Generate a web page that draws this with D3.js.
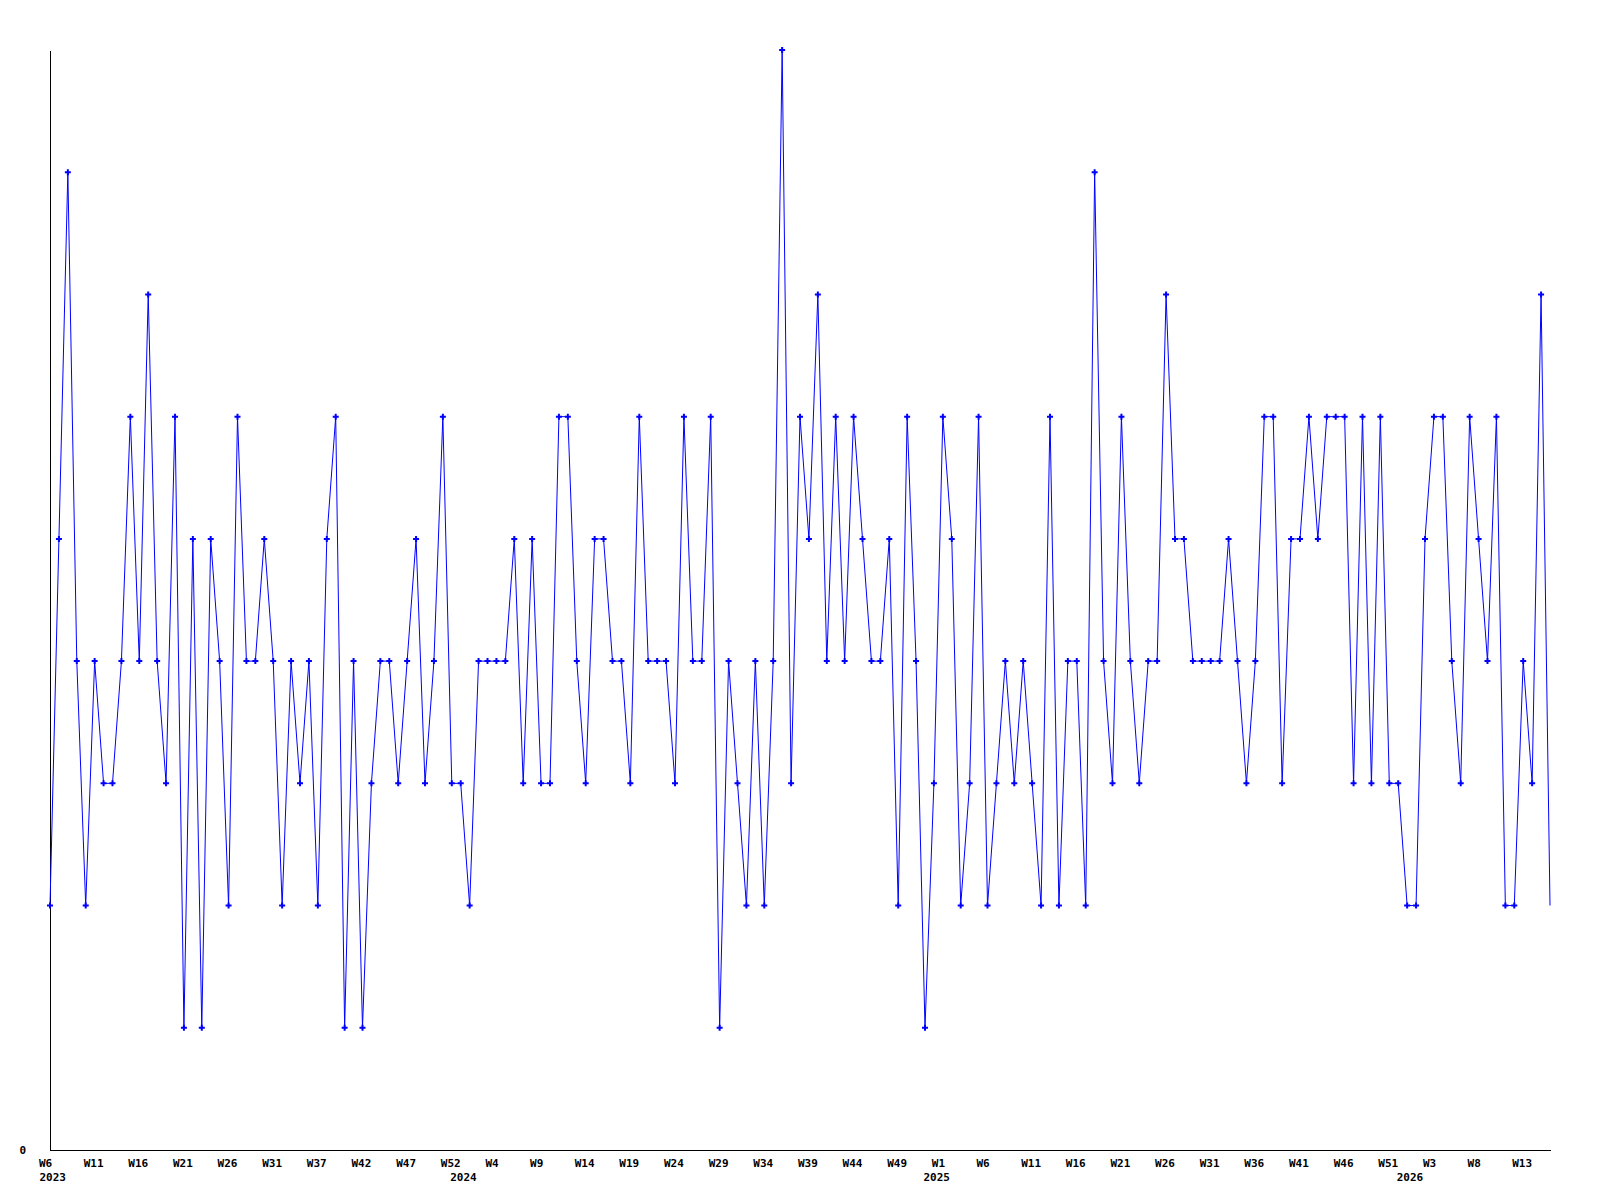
<!DOCTYPE html>
<html>
<head>
<meta charset="utf-8">
<script src="https://cdn.jsdelivr.net/npm/d3@7"></script>
<style>
  html, body { margin: 0; padding: 0; background: #ffffff; }
  svg { display: block; }
  .axis text { font-family: "DejaVu Sans Mono", monospace; font-weight: bold; font-size: 11px; fill: #000; }
  .axis path { stroke: #000; stroke-width: 1; shape-rendering: crispEdges; }
</style>
</head>
<body>
<svg id="chart" width="1600" height="1200"></svg>
<script>
// Weekly values, starting 2023 W6 (one value per week)
const values = [
  2,5,8,4,2,4,3,3,4,6,
  4,7,4,3,6,1,5,1,5,4,
  2,6,4,4,5,4,2,4,3,4,
  2,5,6,1,4,1,3,4,4,3,
  4,5,3,4,6,3,3,2,4,4,
  4,4,5,3,5,3,3,6,6,4,
  3,5,5,4,4,3,6,4,4,4,
  3,6,4,4,6,1,4,3,2,4,
  2,4,9,3,6,5,7,4,6,4,
  6,5,4,4,5,2,6,4,1,3,
  6,5,2,3,6,2,3,4,3,4,
  3,2,6,2,4,4,2,8,4,3,
  6,4,3,4,4,7,5,5,4,4,
  4,4,5,4,3,4,6,6,3,5,
  5,6,5,6,6,6,3,6,3,6,
  3,3,2,2,5,6,6,4,3,6,
  5,4,6,2,2,4,3,7,2
];

// Week tick labels (one every 5 weeks, starting at week index 0)
const weekTickLabels = [
  "W6","W11","W16","W21","W26","W31","W37","W42","W47","W52",
  "W4","W9","W14","W19","W24","W29","W34","W39","W44","W49",
  "W1","W6","W11","W16","W21","W26","W31","W36","W41","W46",
  "W51","W3","W8","W13"
];
const weekTickStep = 5;

// Year labels and the week index where each is shown
const yearLabels = ["2023","2024","2025","2026"];
const yearWeekIndex = [0, 46, 99, 152];

const yTickValues = [0];

(function () {
  const svg = d3.select("#chart");
  const mLeft = 50, mRight = 1550, mTop = 50, mBottom = 1150;

  const x = d3.scaleLinear().domain([0, values.length - 1]).range([mLeft, mRight]);
  const y = d3.scaleLinear().domain([0, d3.max(values)]).range([mBottom, mTop]);

  // X axis: week labels
  const weekTicks = weekTickLabels.map((_, k) => k * weekTickStep);
  const xAxis = d3.axisBottom(x)
    .tickValues(weekTicks)
    .tickFormat((d, k) => weekTickLabels[k])
    .tickSize(0).tickSizeOuter(0);
  const gx = svg.append("g").attr("class", "axis")
    .attr("transform", `translate(0,${mBottom})`)
    .call(xAxis);
  gx.selectAll(".tick text")
    .attr("text-anchor", "start")
    .attr("x", -11.5)
    .attr("dy", null)
    .attr("y", 16.5);

  // X axis: year labels
  const yearAxis = d3.axisBottom(x)
    .tickValues(yearWeekIndex)
    .tickFormat((d, k) => yearLabels[k])
    .tickSize(0).tickSizeOuter(0);
  const gYear = svg.append("g").attr("class", "axis")
    .attr("transform", `translate(0,${mBottom})`)
    .call(yearAxis);
  gYear.select(".domain").remove();
  gYear.selectAll(".tick text")
    .attr("text-anchor", "start")
    .attr("x", -11)
    .attr("dy", null)
    .attr("y", 31);

  // Y axis
  const yAxis = d3.axisLeft(y)
    .tickValues(yTickValues)
    .tickFormat(d3.format("d"))
    .tickSize(0).tickSizeOuter(0).tickPadding(24);
  svg.append("g").attr("class", "axis")
    .attr("transform", `translate(${mLeft},0)`)
    .call(yAxis);

  // Line
  const line = d3.line().x((d, i) => x(i)).y(d => y(d));
  svg.append("path")
    .datum(values)
    .attr("fill", "none")
    .attr("stroke", "#0000ff")
    .attr("stroke-width", 1)
    .attr("d", line);

  // Markers (the final, current week has no marker in the original)
  svg.append("g").selectAll("path")
    .data(values.slice(0, -1))
    .join("path")
    .attr("transform", (d, i) => `translate(${x(i)},${y(d)})`)
    .attr("d", d3.symbol(d3.symbolCross, 20))
    .attr("fill", "#0000ff");
})();
</script>
</body>
</html>
